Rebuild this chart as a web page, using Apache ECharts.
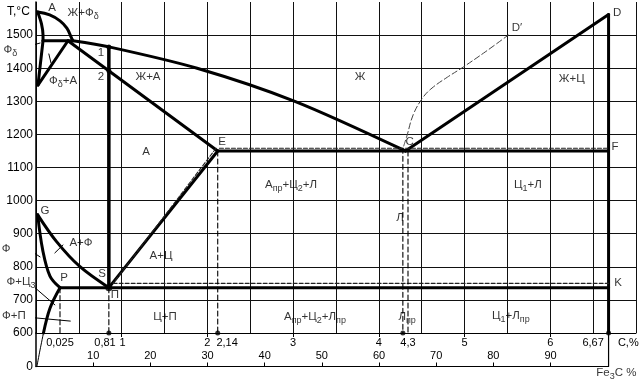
<!DOCTYPE html>
<html><head><meta charset="utf-8">
<script src="https://cdn.jsdelivr.net/npm/echarts@6/dist/echarts.min.js"></script>
<style>html,body{margin:0;padding:0;background:#fff}#c{width:642px;height:383px}</style>
</head><body><div id="c"></div>
<script>
// ---- axis ticks / labels ----
const tempTicks = [600, 700, 800, 900, 1000, 1100, 1200, 1300, 1400, 1500];
const carbonTickPos = [0.28, 0.805, 1.01, 2, 2.23, 3, 4, 4.34, 5, 6, 6.5, 6.91];
const carbonTickText = ['0,025', '0,81', '1', '2', '2,14', '3', '4', '4,3', '5', '6', '6,67', 'C,%'];
const carbonMajorTicks = [1, 2, 3, 4, 5, 6];
const fe3cTicks = [10, 20, 30, 40, 50, 60, 70, 80, 90];

// ---- phase lines [C %, T °C] as drawn ----
const liquidusAB = [[0.02,1570],[0.16,1561],[0.28,1543],[0.36,1521],[0.41,1494],[0.43,1483]];
const solidusAH = [[0.02,1570],[0.064,1534],[0.082,1500],[0.082,1483]];
const lineHN = [[0.082,1483],[0.023,1349]];
const peritecticHJB = [[0.082,1483],[0.43,1483]];
const lineNJ = [[0.023,1349],[0.373,1483]];
const solidusJE = [[0.373,1483],[2.12,1150]];
const liquidusBC = [[0.43,1483],[0.86,1464],[1.88,1400],[3.02,1300],[4.31,1150]];
const liquidusCD = [[4.31,1150],[6.68,1562]];
const eutecticECF = [[2.12,1150],[6.68,1150]];
const lineDF = [[6.68,1562],[6.68,600]];
const lineES = [[2.12,1150],[0.85,737]];
const eutectoidPSK = [[0.28,737],[6.68,737]];
const lineGS = [[0.02,957],[0.24,876],[0.51,801],[0.85,737]];
const lineGP = [[0.02,957],[0.078,851],[0.163,772],[0.28,737]];
const linePQ = [[0.28,737],[0.163,675],[0.087,600]];
const linePQlow = [[0.087,600],[0.047,296],[0.01,0]];
const alloy081 = [[0.85,1464],[0.85,737]];
// stable (graphite) system, dashed
const stableECF = [[2.14,1158],[6.68,1158]];
const stableES = [[2.10,1158],[0.90,750]];
const stablePSK = [[0.90,750],[6.68,750]];
const stableCD = [[4.29,1165],[4.33,1198],[4.40,1259],[4.51,1310],[4.62,1340],[4.80,1373],[4.97,1401],[5.24,1449],[5.51,1500]];
// composition drop lines
const dropP = [[0.28,737],[0.28,600]];
const dropS = [[0.85,737],[0.85,600]];
const dropE = [[2.12,1150],[2.12,600]];
const dropC1 = [[4.28,1158],[4.28,600]];
const dropC2 = [[4.34,1150],[4.34,600]];
// lower strip (0..600 °C) and Fe3C axis
const bottomAxis = [[0,0],[6.68,0],[6.68,600]];
// marked points
const points = [[0.85,1464],[0.85,1392],[0.85,600],[2.12,600],[4.28,600],[6.68,600]];
const pointS = [[0.85,737]];

// ---- annotations ----
const leaders = [
  [[-0.21,1458],[0.047,1476]],
  [[0.15,1443],[0.175,1416]],
  [[-0.093,854],[0.047,830]],
  [[0.22,842],[0.315,866]],
  [[-0.035,742],[0.22,685]],
  [[-0.105,648],[0.40,636]]
];
const regionText = ['А','Ж+Ф{s|δ}','Ф{s|δ}','Ф{s|δ}+А','1','2','Ж+А','Ж','D′','D','Ж+Ц','E','C','F','А',
  'А{s|пр}+Ц{s|2}+Л','Ц{s|1}+Л','Л','G','Ф','А+Ф','А+Ц','S','П','P','K','Ф+Ц{s|3}','Ф+П','Ц+П',
  'А{s|пр}+Ц{s|2}+Л{s|пр}','Л{s|пр}','Ц{s|1}+Л{s|пр}','Fe{s|3}C %'];
const regionAnchor = [[0.187,1582],[0.55,1566],[-0.30,1455],[0.315,1361],[0.758,1446],[0.758,1373],[1.307,1373],[3.78,1373],
  [5.61,1521],[6.78,1567],[6.25,1367],[2.17,1177],[4.36,1177],[6.755,1162],[1.283,1147],
  [2.975,1047],[5.74,1047],[4.247,947],[0.105,969],[-0.35,854],[0.525,872],[1.458,833],[0.77,778],[0.92,715],
  [0.327,766],[6.79,751],[-0.175,754],[-0.257,651],[1.505,648],[3.255,648],[4.33,648],[5.54,651],[6.77,479]];

const FONT = '"Liberation Sans", Arial, sans-serif';
const chart = echarts.init(document.getElementById('c'), null, {renderer: 'canvas'});

function ln(data, o) {
  o = o || {};
  return {
    type: 'line', data: data, symbol: 'none', clip: false, silent: true, animation: false,
    xAxisIndex: o.grid2 ? 2 : 0, yAxisIndex: o.grid2 ? 1 : 0,
    smooth: o.smooth || false, z: o.z || 3,
    lineStyle: {color: o.color || '#000', width: o.w || 3, type: o.type || 'solid', cap: 'round', join: 'round'}
  };
}
const dashS = {w: 1.1, type: [4, 2], color: '#222'};
const dashV = {w: 1.1, type: [5, 3], color: '#000'};

const series = [
  ln(liquidusAB, {smooth: 0.4}),
  ln(solidusAH, {smooth: 0.3}),
  ln(lineHN), ln(peritecticHJB), ln(lineNJ), ln(solidusJE),
  ln(liquidusBC, {smooth: 0.3}),
  ln(liquidusCD), ln(eutecticECF), ln(lineDF), ln(lineES), ln(eutectoidPSK),
  ln(lineGS, {smooth: 0.35}), ln(lineGP, {smooth: 0.35}), ln(linePQ, {smooth: 0.35}),
  ln(linePQlow, {grid2: true, w: 1, smooth: 0.3}),
  ln(alloy081, {w: 3.5}),
  ln(stableECF, dashS), ln(stableES, dashS), ln(stablePSK, dashS),
  ln(stableCD, {w: 1, type: [6, 3], color: '#444', smooth: 0.4}),
  ln(dropP, dashV), ln(dropS, dashV), ln(dropE, dashV), ln(dropC1, dashV), ln(dropC2, dashV),
  ln(bottomAxis, {grid2: true, w: 1.2})
];
leaders.forEach(l => series.push(ln(l, {w: 1})));
series.push({type: 'scatter', data: points, symbolSize: 5, itemStyle: {color: '#000'}, silent: true, animation: false, clip: false, z: 5});
series.push({type: 'scatter', data: pointS, symbolSize: 7, itemStyle: {color: '#000'}, silent: true, animation: false, clip: false, z: 5});
series.push({
  type: 'scatter', symbolSize: 0, silent: true, animation: false, clip: false, z: 6,
  data: regionAnchor.map((a, i) => ({value: a, name: regionText[i]})),
  label: {
    show: true, position: 'inside', color: '#000', fontFamily: FONT, fontSize: 11.5, lineHeight: 14,
    formatter: p => p.name,
    rich: {s: {fontFamily: FONT, fontSize: 9, lineHeight: 16, verticalAlign: 'bottom', color: '#000'}}
  }
});

chart.setOption({
  backgroundColor: '#fff',
  animation: false,
  title: {text: 'T,°C', left: 2, top: 1, textStyle: {fontFamily: FONT, fontSize: 12, fontWeight: 'normal', color: '#000'}},
  grid: [
    {left: 36, top: 2, width: 600, height: 331},
    {left: 36, top: 333, width: 600, height: 33.5}
  ],
  xAxis: [
    {gridIndex: 0, type: 'value', min: 0, max: 7, interval: 0.5,
      axisLine: {show: true, onZero: false, lineStyle: {color: '#000', width: 1}},
      axisTick: {show: false}, axisLabel: {show: false},
      splitLine: {show: true, lineStyle: {color: '#111', width: 1}}},
    {gridIndex: 0, type: 'value', min: 0, max: 7, position: 'bottom',
      axisLine: {show: false}, splitLine: {show: false},
      axisTick: {show: true, customValues: carbonMajorTicks, length: 4, lineStyle: {color: '#000'}},
      axisLabel: {show: true, customValues: carbonTickPos, margin: 4, fontFamily: FONT, fontSize: 11, color: '#000',
        formatter: v => { const i = carbonTickPos.findIndex(p => Math.abs(p - v) < 1e-6); return i >= 0 ? carbonTickText[i] : ''; }}},
    {gridIndex: 1, type: 'value', min: 0, max: 7, show: false},
    {gridIndex: 1, type: 'value', min: 0, max: 700 / 6.67, position: 'bottom',
      axisLine: {show: false}, splitLine: {show: false},
      axisTick: {show: true, inside: true, length: 4, customValues: fe3cTicks, lineStyle: {color: '#000'}},
      axisLabel: {show: true, inside: true, margin: 5, customValues: fe3cTicks, fontFamily: FONT, fontSize: 11, color: '#000',
        formatter: v => String(v)}}
  ],
  yAxis: [
    {gridIndex: 0, type: 'value', min: 600, max: 1600, interval: 100,
      axisLine: {show: true, lineStyle: {color: '#000', width: 1.5}},
      axisTick: {show: false},
      axisLabel: {customValues: tempTicks, margin: 3, fontFamily: FONT, fontSize: 12, color: '#000', formatter: v => String(v)},
      splitLine: {show: true, showMaxLine: false, lineStyle: {color: '#111', width: 1}}},
    {gridIndex: 1, type: 'value', min: 0, max: 600,
      axisLine: {show: true, lineStyle: {color: '#000', width: 1.5}},
      axisTick: {show: false}, splitLine: {show: false},
      axisLabel: {customValues: [0], margin: 3, fontFamily: FONT, fontSize: 12, color: '#000', formatter: v => String(v)}}
  ],
  series: series
});
</script></body></html>
